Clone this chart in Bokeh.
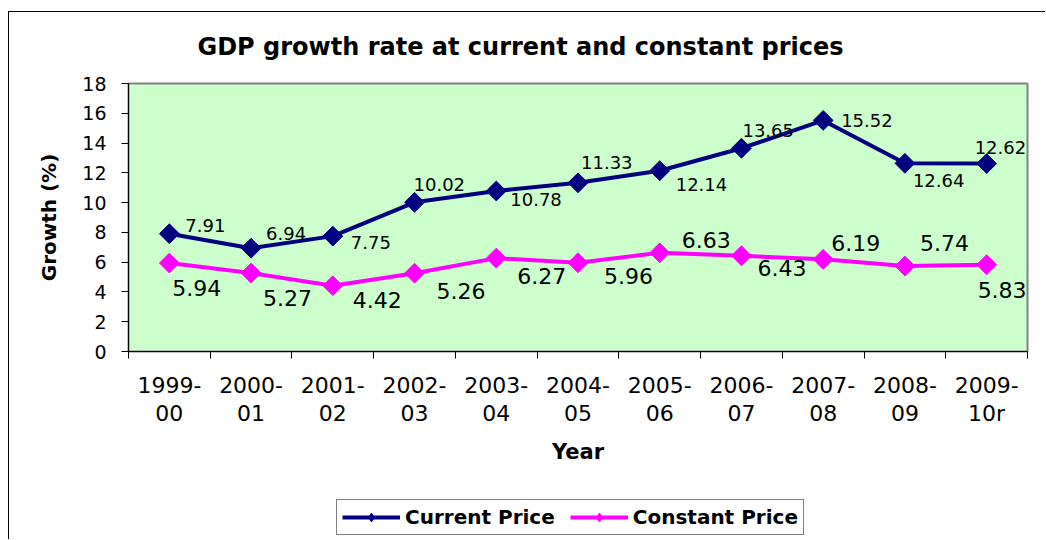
from bokeh.plotting import figure
from bokeh.layouts import column
from bokeh.models import (ColumnDataSource, LabelSet, Label, Legend, LegendItem,
                          FixedTicker, Range1d)
from bokeh.core.properties import value
from bokeh.embed import file_html
from bokeh.resources import INLINE
import math

# ---------------- data ----------------
title_text = "GDP growth rate at current and constant prices"
years = ["1999-\n00", "2000-\n01", "2001-\n02", "2002-\n03", "2003-\n04", "2004-\n05",
         "2005-\n06", "2006-\n07", "2007-\n08", "2008-\n09", "2009-\n10r"]
current = [7.91, 6.94, 7.75, 10.02, 10.78, 11.33, 12.14, 13.65, 15.52, 12.64, 12.62]
constant = [5.94, 5.27, 4.42, 5.26, 6.27, 5.96, 6.63, 6.43, 6.19, 5.74, 5.83]
y_ticks = [0, 2, 4, 6, 8, 10, 12, 14, 16, 18]
series_names = ["Current Price", "Constant Price"]

# data-label placement offsets in pixels (style only)
cur_dx = [16, 15, 18, -1, 14, 3, 16, 1, 18, 8, -12]
cur_dy = [8, 15, -6, 18, -9, 20, -14, 18, 0, -17, 16]
con_dx = [3, 12, 20, 22, 21, 26, 22, 16, 8, 15, -9]
con_dy = [-25, -25, -14, -18, -18, -13, 13, -12, 16, 23, -25]

FONT = "DejaVu Sans"
NAVY = "#000080"
PINK = "#FF00FF"
W = 1037


def strip(height, styles):
    f = figure(width=W, height=height, x_range=Range1d(0, 1), y_range=Range1d(0, 1),
               output_backend="svg", toolbar_location=None,
               x_axis_location=None, y_axis_location=None,
               min_border=0, min_border_left=0, min_border_right=0,
               min_border_top=0, min_border_bottom=0,
               outline_line_color=None, background_fill_color="white",
               border_fill_color="white")
    f.styles = styles
    f.xgrid.visible = False
    f.ygrid.visible = False
    return f


# ---------------- title strip ----------------
tt = strip(60, {"margin-left": "8px", "margin-top": "11px",
                "border-left": "1px solid #000000", "border-top": "1px solid #000000"})
tt.add_layout(Label(x=69, y=26, x_units="screen", y_units="screen", text=title_text,
                    text_font=FONT, text_font_style="bold", text_font_size="24px",
                    text_color="black", text_baseline="alphabetic", text_align="left"))

# ---------------- main chart ----------------
n = len(years)
xs = [i + 0.5 for i in range(n)]

p = figure(width=W, height=418,
           x_range=Range1d(0, n), y_range=Range1d(y_ticks[0], y_ticks[-1]),
           output_backend="svg", toolbar_location=None,
           min_border_left=119, min_border_right=19,
           min_border_top=12, min_border_bottom=138,
           background_fill_color="#CCFFCC", border_fill_color="white")
p.styles = {"margin-left": "8px", "border-left": "1px solid #000000"}

p.outline_line_color = "#808080"
p.outline_line_width = 2
p.xgrid.visible = False
p.ygrid.visible = False

# x axis
xa = p.xaxis[0]
xa.ticker = FixedTicker(ticks=xs, minor_ticks=list(range(n + 1)))
xa.major_label_overrides = {x: lab for x, lab in zip(xs, years)}
xa.major_tick_line_color = None
xa.major_tick_out = 0
xa.major_tick_in = 0
xa.minor_tick_line_color = "black"
xa.minor_tick_out = 7
xa.minor_tick_in = 0
xa.axis_line_color = "black"
xa.major_label_text_font = FONT
xa.major_label_text_font_size = "22px"
xa.major_label_text_color = "black"
xa.major_label_text_line_height = 1.15
xa.major_label_standoff = 14
xa.axis_label = "Year"
xa.axis_label_text_font = FONT
xa.axis_label_text_font_style = "bold"
xa.axis_label_text_font_size = "21px"
xa.axis_label_text_color = "black"
xa.axis_label_standoff = 11

# y axis
ya = p.yaxis[0]
ya.ticker = FixedTicker(ticks=y_ticks, minor_ticks=[])
ya.major_tick_out = 7
ya.major_tick_in = 0
ya.major_tick_line_color = "black"
ya.axis_line_color = "black"
ya.major_label_text_font = FONT
ya.major_label_text_font_size = "19px"
ya.major_label_text_color = "black"
ya.major_label_standoff = 15
ya.axis_label = "Growth (%)"
ya.axis_label_text_font = FONT
ya.axis_label_text_font_style = "bold"
ya.axis_label_text_font_size = "20px"
ya.axis_label_text_color = "black"
ya.axis_label_standoff = 18

# series
src_cur = ColumnDataSource(dict(x=xs, y=current, t=[f"{v:.2f}" for v in current],
                                dx=cur_dx, dy=cur_dy))
src_con = ColumnDataSource(dict(x=xs, y=constant, t=[f"{v:.2f}" for v in constant],
                                dx=con_dx, dy=con_dy))

p.line("x", "y", source=src_cur, line_color=NAVY, line_width=4)
p.scatter("x", "y", source=src_cur, marker="square", angle=math.pi / 4,
          size=14, fill_color=NAVY, line_color=NAVY)
p.line("x", "y", source=src_con, line_color=PINK, line_width=4)
p.scatter("x", "y", source=src_con, marker="square", angle=math.pi / 4,
          size=14, fill_color=PINK, line_color=PINK)

p.add_layout(LabelSet(x="x", y="y", text="t", source=src_cur,
                      x_offset="dx", y_offset="dy",
                      text_font=value(FONT), text_font_size=value("18px"),
                      text_color="black", text_align="left", text_baseline="middle"))
p.add_layout(LabelSet(x="x", y="y", text="t", source=src_con,
                      x_offset="dx", y_offset="dy",
                      text_font=value(FONT), text_font_size=value("22px"),
                      text_color="black", text_align="left", text_baseline="middle"))

# ---------------- legend strip ----------------
lg = strip(50, {"margin-left": "8px", "border-left": "1px solid #000000"})
# proxy renderers (placed outside the visible range) only feed the legend swatches
proxy = ColumnDataSource(dict(x=[-5, -4], y=[-5, -5]))
items = []
for name, col in zip(series_names, [NAVY, PINK]):
    rl = lg.line("x", "y", source=proxy, line_color=col, line_width=4)
    rs = lg.scatter("x", "y", source=proxy, marker="diamond",
                    size=14, fill_color=col, line_color=col)
    items.append(LegendItem(label=name, renderers=[rl, rs]))

legend = Legend(items=items, orientation="horizontal", location=(208, 4),
                label_text_font=FONT, label_text_font_style="bold",
                label_text_font_size="20px", label_text_color="black",
                glyph_width=58, glyph_height=22, label_standoff=5,
                label_height=22, spacing=15, padding=5, margin=0,
                border_line_color="black", border_line_width=1,
                background_fill_color="white", background_fill_alpha=1)
lg.add_layout(legend)

layout = column(tt, p, lg, spacing=0)
open("out.html", "w").write(file_html(layout, INLINE))
